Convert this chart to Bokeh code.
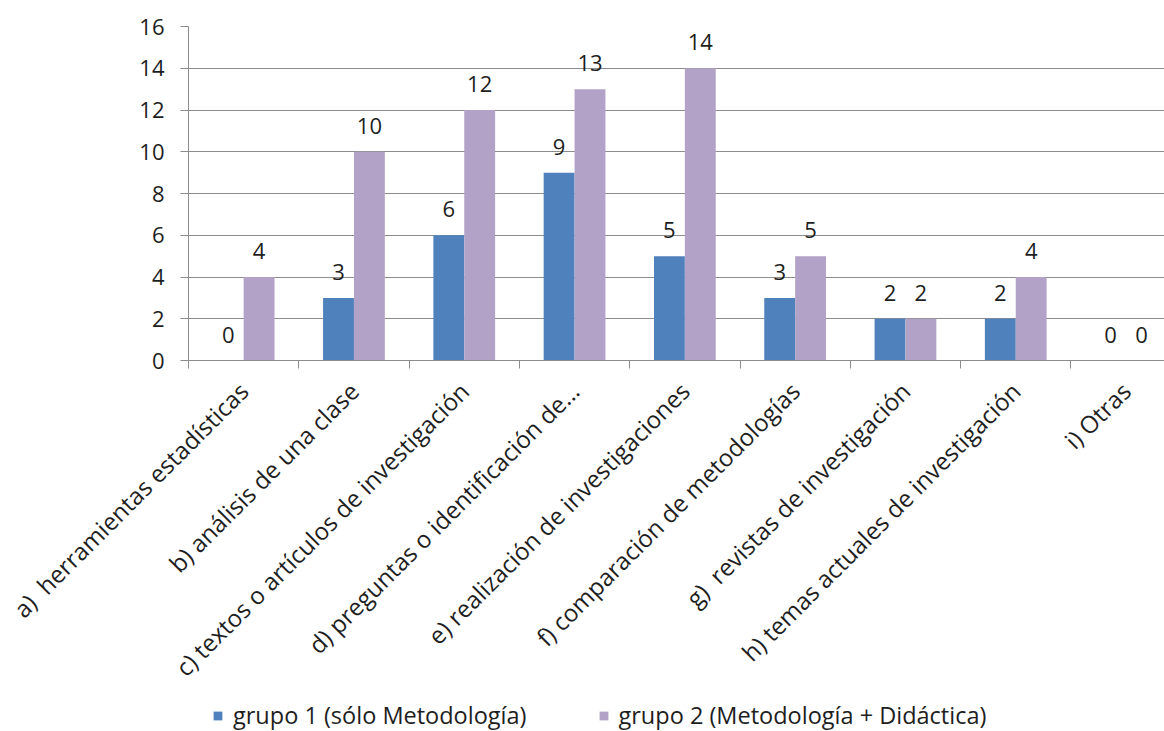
import math
from bokeh.plotting import figure
from bokeh.layouts import column
from bokeh.models import Range1d, FixedTicker, ColumnDataSource, Legend, LegendItem
from bokeh.core.properties import value
from bokeh.embed import file_html
from bokeh.resources import INLINE

categories = [
    "a)\u00a0 herramientas estadísticas",
    "b) análisis de una clase",
    "c) textos o artículos de investigación",
    "d) preguntas o identificación de…",
    "e) realización de investigaciones",
    "f) comparación de metodologías",
    "g)\u00a0 revistas de investigación",
    "h) temas actuales de investigación",
    "i) Otras",
]
grupo1 = [0, 3, 6, 9, 5, 3, 2, 2, 0]
grupo2 = [4, 10, 12, 13, 14, 5, 2, 4, 0]
series_names = ["grupo 1 (sólo Metodología)", "grupo 2 (Metodología + Didáctica)"]
series_colors = ["#4F81BD", "#B3A2C7"]
y_ticks = [0, 2, 4, 6, 8, 10, 12, 14, 16]

FONT = "Open Sans"
TXT = "#1E1E1E"
GRID = "#8C8C8C"

n = len(categories)
centers = [i + 0.5 for i in range(n)]
off = 0.14
bw = 0.28

p = figure(frame_width=976, frame_height=334,
           x_range=Range1d(0, 976 / 110.3), y_range=Range1d(0, 16),
           output_backend="svg", toolbar_location=None,
           min_border_left=188, min_border_right=0, min_border_top=26,
           min_border_bottom=340)
p.outline_line_color = None
p.xgrid.visible = False
p.ygrid.grid_line_color = GRID
p.ygrid.ticker = FixedTicker(ticks=y_ticks)

src1 = ColumnDataSource(dict(x=[c - off for c in centers], top=grupo1,
                             lbl=[str(v) for v in grupo1]))
src2 = ColumnDataSource(dict(x=[c + off for c in centers], top=grupo2,
                             lbl=[str(v) for v in grupo2]))
p.vbar(x="x", top="top", width=bw, source=src1, fill_color=series_colors[0], line_color=None)
p.vbar(x="x", top="top", width=bw, source=src2, fill_color=series_colors[1], line_color=None)

for s in (src1, src2):
    p.text(x="x", y="top", text="lbl", source=s, text_align="center",
           text_baseline="alphabetic", y_offset=-26, text_font=value(FONT),
           text_font_size="22px", text_color=TXT)

# x axis
xa = p.xaxis[0]
xa.ticker = FixedTicker(ticks=centers, minor_ticks=list(range(n + 1)))
xa.major_label_overrides = {c: lab for c, lab in zip(centers, categories)}
xa.major_label_orientation = math.pi / 4
xa.major_tick_line_color = None
xa.major_tick_out = 0
xa.major_tick_in = 0
xa.minor_tick_out = 8
xa.minor_tick_in = 0
xa.minor_tick_line_color = GRID
xa.axis_line_color = GRID
xa.major_label_standoff = 18
xa.major_label_text_font = FONT
xa.major_label_text_font_size = "24px"
xa.major_label_text_color = TXT

ya = p.yaxis[0]
ya.ticker = FixedTicker(ticks=y_ticks)
ya.minor_tick_line_color = None
ya.major_tick_out = 8
ya.major_tick_in = 0
ya.major_tick_line_color = GRID
ya.axis_line_color = GRID
ya.major_label_standoff = 16
ya.major_label_text_font = FONT
ya.major_label_text_font_size = "22px"
ya.major_label_text_color = TXT

# legend strip below the chart (its frame is aligned with the chart frame)
lp = figure(width=1164, height=31, x_range=Range1d(0, 1), y_range=Range1d(0, 1),
            output_backend="svg", toolbar_location=None,
            x_axis_location=None, y_axis_location=None,
            min_border_left=0, min_border_right=0, min_border_top=0, min_border_bottom=0)
lp.outline_line_color = None
lp.xgrid.visible = False
lp.ygrid.visible = False
hidden = dict(x=[-10.0], top=[0.0])
l1 = lp.vbar(x="x", top="top", width=0.1, source=ColumnDataSource(hidden),
             fill_color=series_colors[0], line_color=None)
l2 = lp.vbar(x="x", top="top", width=0.1, source=ColumnDataSource(hidden),
             fill_color=series_colors[1], line_color=None)
legend = Legend(items=[LegendItem(label=series_names[0], renderers=[l1]),
                       LegendItem(label=series_names[1], renderers=[l2])],
                location=(24, 0), orientation="horizontal",
                glyph_width=11, glyph_height=11, label_standoff=10, spacing=71,
                padding=0, margin=0, border_line_color=None,
                background_fill_alpha=0,
                label_text_font=FONT, label_text_font_size="23.5px",
                label_text_color=TXT)
lp.add_layout(legend, "center")

layout = column(p, lp, spacing=0)
open("out.html", "w").write(file_html(layout, INLINE))
